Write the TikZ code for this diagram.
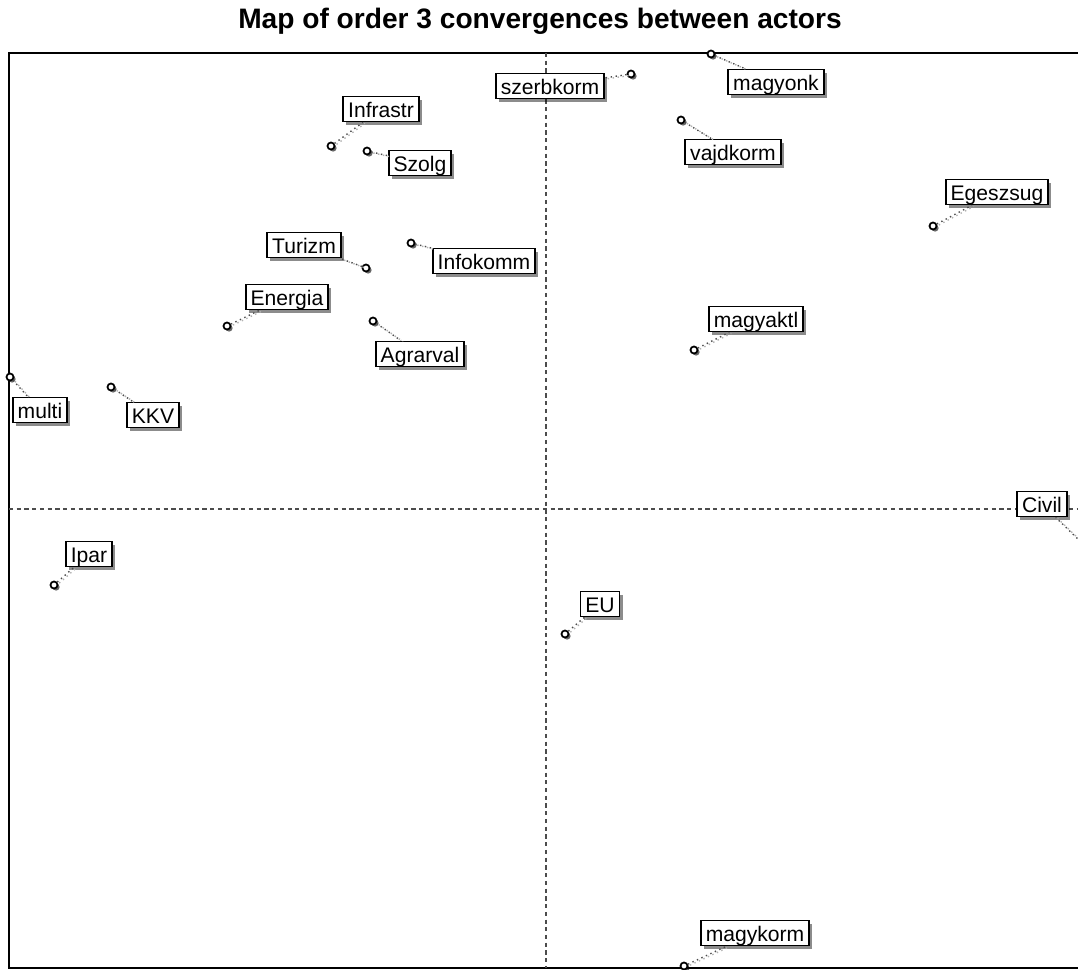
\documentclass[tikz,border=0pt]{standalone}
\usepackage{fontspec}
\setmainfont{Liberation Sans}
\usepackage{tikz}
\usetikzlibrary{shadows}

\tikzset{
    lab/.style={
            draw, fill=white, line width=0.5pt,
            font=\fontsize{6}{7}\selectfont,
            text height=5.5pt, text depth=0.6pt,
            inner xsep=1.4pt, inner ysep=0.5pt,
            drop shadow={shadow xshift=0.9pt, shadow yshift=-0.9pt, fill=black, opacity=0.45},
        },
    pt/.style={
            circle, draw, fill=white, line width=0.5pt,
            inner sep=0pt, minimum size=2pt,
            drop shadow={shadow xshift=0.6pt, shadow yshift=-0.6pt, fill=black, opacity=0.6},
        },
    leader/.style={
            densely dotted, line width=0.4pt, black!70,
            preaction={draw, densely dotted, black!30, transform canvas={shift={(2,1)}}},
        },
}

\begin{document}
\begin{tikzpicture}[x=0.01cm, y=-0.01cm]

    \useasboundingbox (0,0) rectangle (1078,970);
    \clip (0,0) rectangle (1078,970);

    \node[font=\bfseries\fontsize{8}{9}\selectfont] (title) at (540,21) {Map of order 3 convergences between actors};

    % frame
    \draw[line width=0.4pt] (1090,53) -- (9,53) -- (9,968) -- (1090,968);

    % axes
    \draw[dash pattern=on 1.2pt off 1pt, line width=0.3pt, black!70] (546,53) -- (546,968);
    \draw[dash pattern=on 1.2pt off 1pt, line width=0.3pt, black!70] (9,509) -- (1078,509);

    \foreach \name/\mx/\my/\lx/\ly in {
            Infrastr/331/146/381/109,
            Szolg/367/151/420/163,
            szerbkorm/631/74/550/86,
            magyonk/711/54/776/82,
            vajdkorm/681/120/733/152,
            Egeszsug/933/226/997/192,
            Turizm/366/268/304/245,
            Infokomm/411/243/484/261,
            Energia/227/326/287/297,
            Agrarval/373/321/420/354,
            magyaktl/694/350/756/319,
            multi/10/377/40/410,
            KKV/111/387/153/415,
            Civil/1084/545/1042/504,
            Ipar/54/585/89/554,
            EU/565/634/600/604,
            magykorm/684/966/755/933}{
            \node[pt] (m\name) at (\mx,\my) {};
            \node[lab] (\name) at (\lx,\ly) {\name};
            \draw[leader] (m\name) -- (\name);
        }

\end{tikzpicture}
\end{document}
